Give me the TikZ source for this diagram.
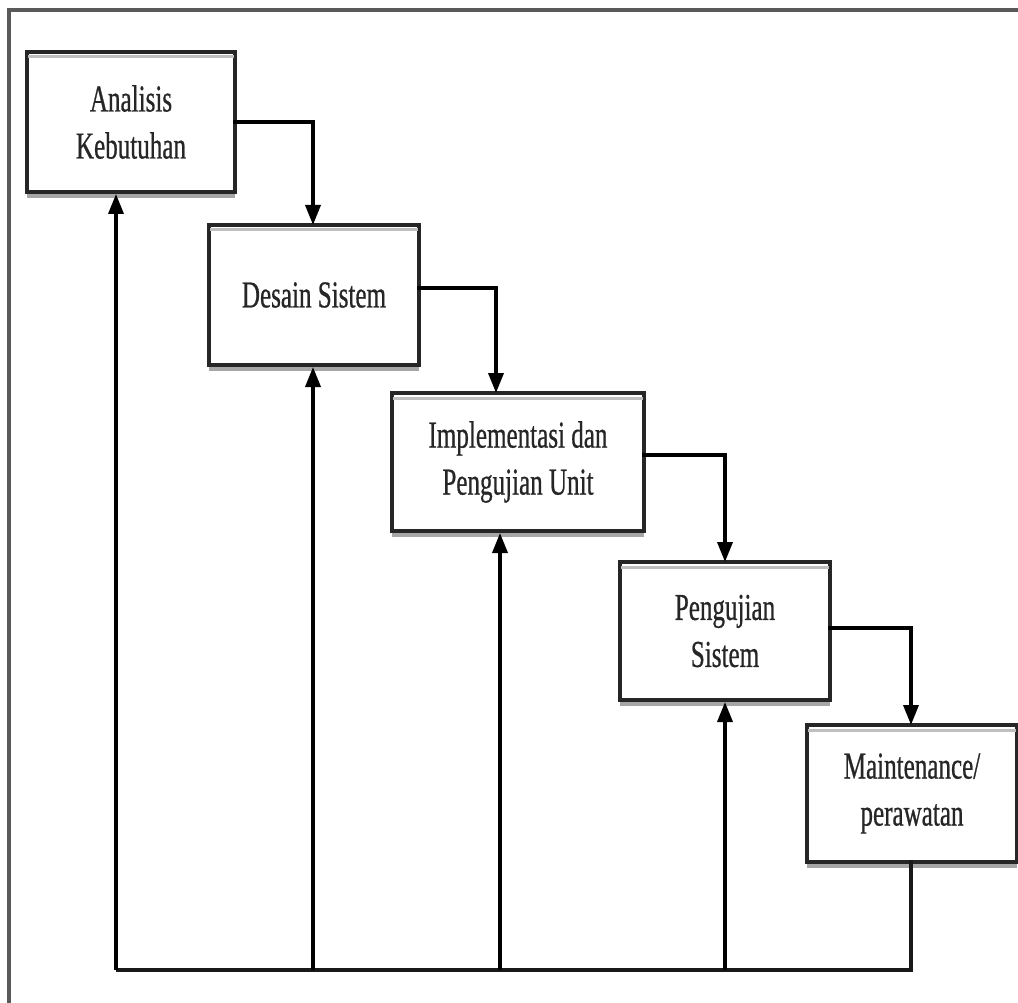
\documentclass[tikz,border=0pt]{standalone}
\usepackage{fontspec}
\newfontfamily\boxfont[FakeStretch=0.66,FakeBold=0.6]{Liberation Serif}
\usetikzlibrary{arrows.meta}
\begin{document}
\begin{tikzpicture}[x=1pt,y=-1pt,
  stage/.style={draw=black!85,line width=4pt,fill=white,rectangle,anchor=north west,inner sep=0pt,
    align=center,text=black!85,font=\boxfont\fontsize{38}{47}\selectfont},
  flow/.style={draw=black,line width=3.5pt,-{Triangle[length=20pt,width=15pt]}},
  plain/.style={draw=black!90,line width=3.5pt},
  shade/.style={draw=black!35,line width=4pt},
  topshade/.style={draw=black!25,line width=3pt}]
\useasboundingbox (0,0) rectangle (1018,1003);
% frame (top and left edges)
\draw[draw=black!65,line width=4pt] (9,1003) -- (9,10) -- (1018,10);
% shadows below the boxes
\foreach \l/\b/\r in {25/190/233, 207/363/417, 390/529/642, 618/698/828, 805/860/1015}{
  \draw[shade] (\l+2,\b+6) -- (\r+2,\b+6);
}
% boxes
\node[stage,minimum width=208pt,minimum height=140pt] (b1) at (25,50) {Analisis\\Kebutuhan};
\node[stage,minimum width=210pt,minimum height=140pt] (b2) at (207,223) {Desain Sistem};
\node[stage,minimum width=252pt,minimum height=138pt] (b3) at (390,391) {Implementasi dan\\Pengujian Unit};
\node[stage,minimum width=210pt,minimum height=138pt] (b4) at (618,560) {Pengujian\\Sistem};
\node[stage,minimum width=210pt,minimum height=137pt] (b5) at (805,723) {Maintenance/\\perawatan};
% inner top shading
\foreach \n in {b1,b2,b3,b4,b5}{
  \draw[topshade] ([xshift=3pt,yshift=-7pt]\n.north west) -- ([xshift=-3pt,yshift=-7pt]\n.north east);
}
% forward arrows
\coordinate (o1) at (233,122);
\coordinate (o2) at (417,288);
\coordinate (o3) at (642,455);
\coordinate (o4) at (828,628);
\coordinate (t2) at (313,223);
\coordinate (t3) at (496,391);
\coordinate (t4) at (725,560);
\coordinate (t5) at (911,723);
\draw[flow] (o1) -| ([yshift=-2pt]t2);
\draw[flow] (o2) -| ([yshift=-2pt]t3);
\draw[flow] (o3) -| ([yshift=-2pt]t4);
\draw[flow] (o4) -| ([yshift=-2pt]t5);
% feedback
\coordinate (s5) at (911,860);
\coordinate (c5) at (911,970);
\coordinate (c1) at (116,970);
\coordinate (c2) at (313,970);
\coordinate (c3) at (500,970);
\coordinate (c4) at (725,970);
\draw[plain] (s5) -- (c5) -- (c1);
\draw[flow] (c1) -- (c1 |- b1.south);
\draw[flow] (c2) -- (c2 |- b2.south);
\draw[flow] (c3) -- (c3 |- b3.south);
\draw[flow] (c4) -- (c4 |- b4.south);
\end{tikzpicture}
\end{document}
